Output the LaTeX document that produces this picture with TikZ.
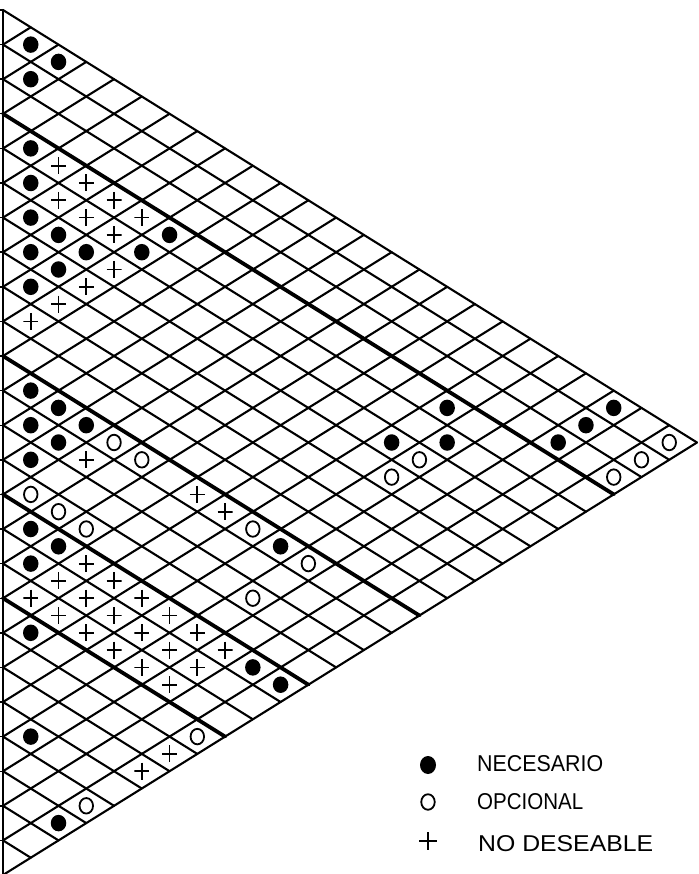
\documentclass[tikz,border=0pt]{standalone}
\usepackage{fontspec}
\usepackage{graphicx}
\setmainfont{Liberation Sans}
\usetikzlibrary{shapes.geometric}
\tikzset{
  gridline/.style={line width=2.1pt, line cap=round},
  groupline/.style={line width=3.8pt, line cap=round},
  edgeline/.style={line width=1.4pt},
  necmark/.style={ellipse, fill=black, draw=none, minimum width=15.5pt, minimum height=16.5pt, inner sep=0pt},
  optmark/.style={ellipse, draw=black, line width=1.8pt, fill=none, minimum width=13.5pt, minimum height=15.5pt, inner sep=0pt},
  plusmark/.style={rectangle, draw=none, minimum width=15pt, minimum height=17pt, inner sep=0pt,
    path picture={\draw[line width=1.8pt] (path picture bounding box.north) -- (path picture bounding box.south)
      (path picture bounding box.west) -- (path picture bounding box.east);}},
  legtext/.style={anchor=west, inner sep=0pt, font=\normalsize}
}
\newcommand{\cellnec}[2]{\node[necmark] (n#1x#2) at ({3+(#2-#1)*27.76},{10+(#1+#2+1)*17.3}) {};}
\newcommand{\cellopt}[2]{\node[optmark] (o#1x#2) at ({3+(#2-#1)*27.76},{10+(#1+#2+1)*17.3}) {};}
\newcommand{\cellnd}[2]{\node[plusmark] (p#1x#2) at ({3+(#2-#1)*27.76},{10+(#1+#2+1)*17.3}) {};}
\begin{document}
\begin{tikzpicture}[x=1pt, y=-1pt]
\useasboundingbox (0,0) rectangle (698,874);
\fill[white] (0,0) rectangle (698,874);
% left edge
\coordinate (top) at (3,10);
\coordinate (bot) at (3,875);
\draw[edgeline] (top) -- (bot);
% grid
\foreach \k in {0,...,25}{
  \coordinate (t\k) at (3,{10+\k*34.6});
  \coordinate (d\k) at ({3+(25-\k)*27.76},{10+(\k+25)*17.3});
  \coordinate (u\k) at ({3+\k*27.76},{10+\k*17.3});
  \draw[gridline] (t\k) -- (d\k);
  \draw[gridline] (t\k) -- (u\k);
  \draw[edgeline] (t\k) -- ++(-3,0);
}
% group separators
\foreach \k in {3,10,14,17}{
  \draw[groupline] (t\k) -- (d\k);
}
% necesario
\foreach \i/\j in {0/1,0/2,1/2,3/4,4/5,3/9,5/6,5/7,6/7,5/8,4/9,6/8,7/8,3/19,5/19,4/20,0/22,1/22,2/22,
  10/11,10/12,11/12,10/13,11/13,12/13,10/20,14/15,14/16,15/16,17/18,14/23,14/24,20/21,22/24}{
  \cellnec{\i}{\j}
}
% no deseable
\foreach \i/\j in {3/5,3/6,4/6,3/7,4/7,3/8,4/8,5/9,6/9,7/9,8/9,11/14,10/17,10/18,
  14/17,15/17,14/18,16/17,15/18,14/19,16/18,15/19,14/20,16/19,15/20,14/21,16/20,15/21,14/22,16/21,15/22,16/22,
  18/24,19/24}{
  \cellnd{\i}{\j}
}
% opcional
\foreach \i/\j in {5/20,6/20,0/24,1/24,2/24,10/14,10/15,13/14,13/15,13/16,10/19,10/21,12/21,17/24,21/24}{
  \cellopt{\i}{\j}
}
% legend
\node[necmark, minimum width=16pt, minimum height=18pt] (lnec) at (428,765) {};
\node[optmark] (lopt) at (428,802) {};
\node[plusmark, minimum width=18pt, minimum height=18pt] (lnd) at (428,841) {};
\node[legtext] (tnec) at (477,764) {\resizebox{126pt}{16pt}{NECESARIO}};
\node[legtext] (topt) at (477,802) {\resizebox{106pt}{16pt}{OPCIONAL}};
\node[legtext] (tnd) at (478,844) {\resizebox{175pt}{16pt}{NO DESEABLE}};
\end{tikzpicture}
\end{document}
